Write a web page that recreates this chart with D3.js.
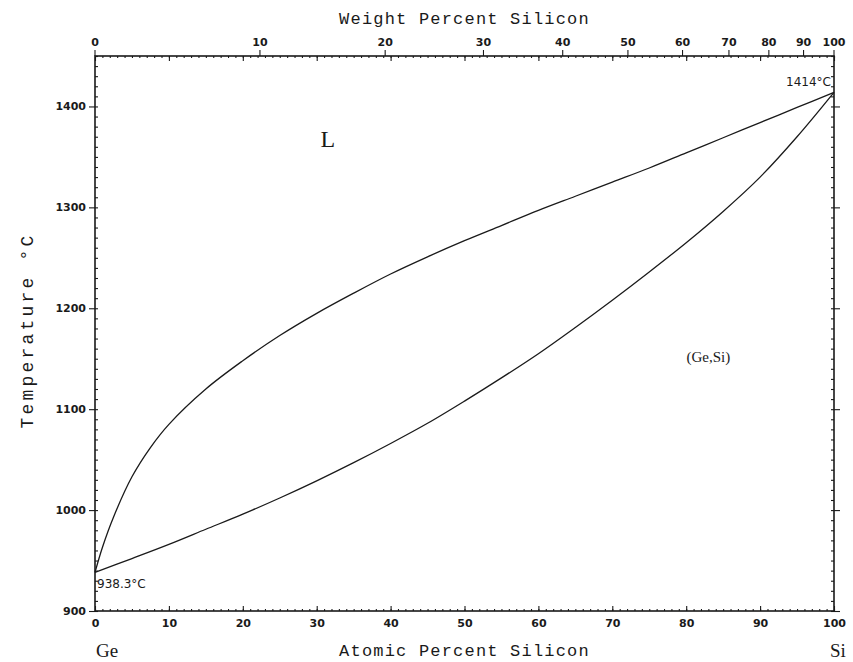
<!DOCTYPE html>
<html><head><meta charset="utf-8">
<script src="https://cdn.jsdelivr.net/npm/d3@7"></script>
<style>body{margin:0;background:#fff}</style>
</head><body>
<svg id="c" width="853" height="662"></svg>
<script>
// Data (atomic % Si, temperature °C)
const liquidusAt = [0,1,2.5,5,7.5,10,15,20,25,30,35,40,45,50,55,60,65,70,75,80,85,90,95,100];
const liquidusT  = [938.3,963,993,1033,1062,1085,1120,1148,1173,1195,1215,1234,1251,1267,1282,1297,1311,1325,1339,1354,1369,1384,1399,1414];
const solidusAt = [0,5,10,15,20,25,30,35,40,45,50,55,60,65,70,75,80,85,90,95,100];
const solidusT  = [938.3,952,966,981,996,1012,1029,1047,1066,1086,1108,1131,1155,1181,1208,1236,1265,1296,1330,1370,1414];
const atomicTicks = [0,10,20,30,40,50,60,70,80,90,100];
const weightTicks = [0,10,20,30,40,50,60,70,80,90,100];
const tempTicks = [900,1000,1100,1200,1300,1400];
const MSi = 28.0855, MGe = 72.63;

const svg = d3.select("#c");
const L=95, R=834, T=56, B=611;
const x = d3.scaleLinear().domain([0,100]).range([L,R]);
const y = d3.scaleLinear().domain([900,1450]).range([B,T]);
const w2a = w => { const s=w/MSi, g=(100-w)/MGe; return 100*s/(s+g); };

const ink = "#1a1a1a";
const tickFont = "DejaVu Sans";

function styleAxis(g){
  g.select(".domain").remove();
  g.selectAll("line").attr("stroke",ink).attr("stroke-width",1.1);
  g.selectAll("text").attr("font-family",tickFont).attr("font-size",11).attr("font-weight","bold").attr("fill",ink);
}
// Bottom
svg.append("g").attr("transform",`translate(0,${B})`)
  .call(d3.axisBottom(x).tickValues(d3.range(0,101,1)).tickSize(-2).tickFormat("")).call(styleAxis);
svg.append("g").attr("transform",`translate(0,${B})`)
  .call(d3.axisBottom(x).tickValues(atomicTicks).tickSize(-5).tickPadding(8).tickFormat(d3.format("d"))).call(styleAxis);
// Top (atomic ticks inside)
svg.append("g").attr("transform",`translate(0,${T})`)
  .call(d3.axisTop(x).tickValues(d3.range(0,101,1)).tickSize(-2).tickFormat("")).call(styleAxis);
svg.append("g").attr("transform",`translate(0,${T})`)
  .call(d3.axisTop(x).tickValues(atomicTicks).tickSize(-5).tickFormat("")).call(styleAxis);
// Top weight ticks outside
const wt = svg.append("g");
wt.selectAll("line").data(weightTicks).join("line")
  .attr("x1",d=>x(w2a(d))).attr("x2",d=>x(w2a(d))).attr("y1",T).attr("y2",T-6)
  .attr("stroke",ink).attr("stroke-width",1.1);
wt.selectAll("text").data(weightTicks).join("text")
  .attr("x",d=>x(w2a(d))).attr("y",T-10).attr("text-anchor","middle")
  .attr("font-family",tickFont).attr("font-size",11).attr("font-weight","bold").attr("fill",ink)
  .text(d=>d);
// Left
svg.append("g").attr("transform",`translate(${L},0)`)
  .call(d3.axisLeft(y).tickValues(d3.range(900,1451,10)).tickSize(-3).tickFormat("")).call(styleAxis);
svg.append("g").attr("transform",`translate(${L},0)`)
  .call(d3.axisLeft(y).tickValues(tempTicks).tickSize(6).tickPadding(3).tickFormat(d3.format("d"))).call(styleAxis);
// Right
svg.append("g").attr("transform",`translate(${R},0)`)
  .call(d3.axisRight(y).tickValues(d3.range(900,1451,10)).tickSize(-3).tickFormat("")).call(styleAxis);
svg.append("g").attr("transform",`translate(${R},0)`)
  .call(d3.axisRight(y).tickValues(tempTicks).tickSize(6).tickFormat("")).call(styleAxis);
// Frame
svg.append("rect").attr("x",L).attr("y",T).attr("width",R-L).attr("height",B-T)
  .attr("fill","none").attr("stroke",ink).attr("stroke-width",1.6);

// Curves
const line = d3.line().x(d=>x(d[0])).y(d=>y(d[1])).curve(d3.curveCatmullRom.alpha(0.5));
svg.append("path").attr("d",line(d3.zip(liquidusAt,liquidusT)))
  .attr("fill","none").attr("stroke",ink).attr("stroke-width",1.3);
svg.append("path").attr("d",line(d3.zip(solidusAt,solidusT)))
  .attr("fill","none").attr("stroke",ink).attr("stroke-width",1.3);

// Titles
const mono = "Liberation Mono";
svg.append("text").attr("x",(L+R)/2).attr("y",24).attr("text-anchor","middle")
  .attr("font-family",mono).attr("font-size",17).attr("letter-spacing",1.2).attr("fill",ink)
  .text("Weight Percent Silicon");
svg.append("text").attr("x",(L+R)/2).attr("y",656).attr("text-anchor","middle")
  .attr("font-family",mono).attr("font-size",17).attr("letter-spacing",1.2).attr("fill",ink)
  .text("Atomic Percent Silicon");
svg.append("text").attr("transform",`translate(33,${(T+B)/2-3}) rotate(-90)`).attr("text-anchor","middle")
  .attr("font-family",mono).attr("font-size",18).attr("letter-spacing",3.2).attr("fill",ink)
  .text("Temperature °C");
const serif = "Liberation Serif";
svg.append("text").attr("x",96).attr("y",657).attr("font-family",serif).attr("font-size",19).attr("fill",ink).text("Ge");
svg.append("text").attr("x",830).attr("y",657).attr("font-family",serif).attr("font-size",19).attr("fill",ink).text("Si");
svg.append("text").attr("x",x(31.5)).attr("y",y(1360)).attr("text-anchor","middle").attr("font-family",serif).attr("font-size",24).attr("fill",ink).text("L");
svg.append("text").attr("x",x(83)).attr("y",y(1147)).attr("text-anchor","middle").attr("font-family",serif).attr("font-size",15).attr("fill",ink).text("(Ge,Si)");
svg.append("text").attr("x",L+2).attr("y",y(938.3)+16).attr("font-family",tickFont).attr("font-size",12).attr("fill",ink).text("938.3°C");
svg.append("text").attr("x",R-3).attr("y",y(1414)-6).attr("text-anchor","end").attr("font-family",tickFont).attr("font-size",12).attr("fill",ink).text("1414°C");
</script>
</body></html>
